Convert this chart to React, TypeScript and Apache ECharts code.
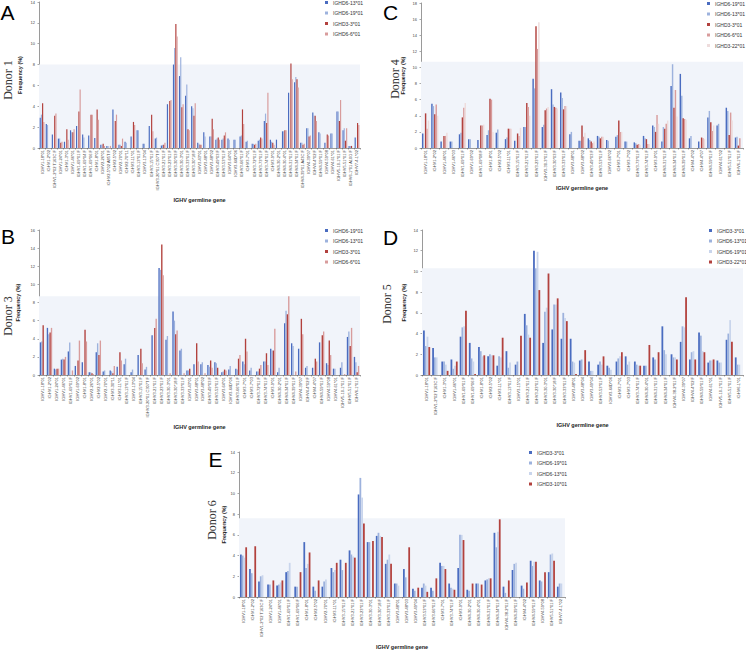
import React, { useEffect, useRef } from "react";
import * as echarts from "echarts";

// ---------- Panel A (Donor 1) ----------
const catsA = [
  "IGHV1-18*01", "IGHV1-2*02", "IGHV1-2*02 T163C F", "IGHV1-24*01", "IGHV1-3*01", "IGHV1-46*01",
  "IGHV1-69*01 F", "IGHV1-69*04 F", "IGHV1-69*06 F", "IGHV1-8*01", "IGHV2-26*01", "IGHV2-5*02 A85T F",
  "IGHV2-5*02", "IGHV2-70*01", "IGHV2-70*11", "IGHV3-11*01", "IGHV3-13*01 F", "IGHV3-13*04",
  "IGHV3-15*01 F", "IGHV3-20*01 C307T F", "IGHV3-21*01 F", "IGHV3-23*01 F", "IGHV3-30*03 F",
  "IGHV3-30-3*01", "IGHV3-33*01 F", "IGHV3-30*18 F", "IGHV3-43*01", "IGHV3-48*01", "IGHV3-48*02",
  "IGHV3-49*03 F", "IGHV3-53*01 F", "IGHV3-64*01", "IGHV3-64D*06", "IGHV3-66*01 F", "IGHV3-7*01",
  "IGHV3-72*01 F", "IGHV3-73*01 F", "IGHV3-74*01 F", "IGHV3-9*01", "IGHV4-30-2*01", "IGHV4-30-4*01",
  "IGHV4-31*01 F", "IGHV4-34*01 F", "IGHV4-39*01 A43C F", "IGHV4-39*07", "IGHV4-4*02 F", "IGHV4-59*01 F",
  "IGHV4-59*08", "IGHV4-61*01", "IGHV5-10-1*01 F", "IGHV5-51*01 F", "IGHV6-1*01 A10G F", "IGHV7-4-1*02",
];
const namesA = ["IGHD6-13*01", "IGHD6-19*01", "IGHD3-3*01", "IGHD6-6*01"];
const a1 = [2.9, 2.3, 1.3, 0.9, 0.6, 1.7, 2.1, 1.3, 1.2, 0.95, 0.3, 0.2, 3.7, 0.3, 0.6, 1.1, 1.7, 0.4, 2.1, 0.9, 0.25, 4.2, 8.0, 6.9, 5.0, 4.0, 0.5, 1.5, 1.1, 0.8, 0.8, 0.9, 0.8, 1.1, 0.6, 0.4, 0.7, 2.6, 0.8, 0.8, 1.6, 5.3, 6.3, 0.5, 1.9, 3.4, 1.5, 0.5, 1.4, 3.5, 1.7, 0.2, 1.0];
const a2 = [3.2, 2.2, 0, 0.9, 0, 1.5, 0, 1.0, 0, 0, 0.3, 0.2, 0, 0.3, 0.5, 0, 1.7, 0.4, 0, 1.0, 0.3, 0, 9.6, 8.7, 6.1, 3.8, 0.4, 1.1, 1.1, 0.9, 0.9, 0.8, 0.8, 1.2, 0.7, 0.4, 0.8, 3.3, 0.6, 0, 1.6, 0, 6.8, 0.5, 1.9, 3.1, 1.4, 0, 1.4, 3.5, 1.9, 0.2, 0];
const a3 = [4.3, 0, 3.1, 0.5, 1.8, 1.5, 3.5, 0, 3.2, 3.7, 0.4, 0, 2.6, 0.2, 0, 2.5, 0, 0, 3.2, 0, 0.3, 4.5, 11.9, 3.9, 1.8, 3.1, 0.3, 0, 2.8, 1.0, 1.2, 0, 0, 3.7, 0, 0.3, 1.0, 2.4, 0.5, 0, 1.7, 8.1, 6.6, 0.3, 1.1, 3.1, 0, 1.3, 0, 2.6, 0.7, 0.2, 2.4];
const a4 = [2.5, 0, 3.3, 0.6, 0.8, 1.8, 5.6, 0, 3.2, 2.7, 0.2, 0.2, 3.2, 0.9, 0, 2.2, 0, 0, 1.6, 0, 0.5, 4.6, 10.7, 4.2, 1.7, 4.3, 0.3, 0, 1.8, 0.8, 1.5, 0, 0, 2.3, 0, 0.4, 0.9, 5.3, 0.3, 0, 1.7, 6.6, 5.8, 0.4, 1.2, 2.6, 0, 1.2, 0, 4.6, 1.9, 0, 2.2];

// ---------- Panel B (Donor 3) ----------
const catsB = [
  "IGHV1-18*01", "IGHV1-2*02", "IGHV1-24*01", "IGHV1-46*01", "IGHV1-69*01 F", "IGHV1-69*02",
  "IGHV1-8*01", "IGHV2-26*01", "IGHV2-5*02", "IGHV2-70*01", "IGHV3-30*11", "IGHV3-11*01",
  "IGHV3-13*01 F", "IGHV3-13*04", "IGHV3-15*01 F", "IGHV3-20*01 C307T F", "IGHV3-21*01 F",
  "IGHV3-23*01 F", "IGHV3-30-3*01", "IGHV3-30*18 F", "IGHV3-33*01 F", "IGHV3-43*01", "IGHV3-48*01",
  "IGHV3-48*02", "IGHV3-49*03 F", "IGHV3-53*01 F", "IGHV3-64*01", "IGHV3-64D*06", "IGHV3-66*01 F",
  "IGHV3-7*01", "IGHV3-7*03", "IGHV3-72*01 F", "IGHV3-74*01 F", "IGHV3-9*01", "IGHV4-30-2*01",
  "IGHV4-34*01 F", "IGHV4-39*01 F", "IGHV4-39*07", "IGHV4-4*02 F", "IGHV4-4*07", "IGHV4-59*01 F",
  "IGHV4-59*08", "IGHV4-61*01", "IGHV5-10-1*01 F", "IGHV5-51*01 F", "IGHV6-1*01 F",
];
const namesB = ["IGHD6-19*01", "IGHD6-13*01", "IGHD3-3*01", "IGHD6-6*01"];
const b1 = [3.6, 5.2, 0.7, 1.7, 2.6, 1.0, 1.4, 0.3, 2.5, 0.4, 0.5, 0.9, 1.2, 0.3, 2.2, 0.6, 4.4, 11.8, 3.9, 7.0, 2.7, 0.5, 1.2, 1.2, 1.1, 1.4, 0.3, 0.6, 0.7, 1.5, 0.5, 0.4, 1.5, 2.9, 0.3, 5.7, 3.5, 2.9, 0.8, 0.8, 3.6, 1.3, 0.7, 0.8, 4.2, 2.0];
const b2 = [3.7, 4.5, 0.6, 1.8, 3.6, 0, 0, 0.3, 3.5, 0.5, 0.4, 0, 1.8, 0.6, 0, 0.9, 0, 11.6, 4.3, 6.0, 2.9, 0.5, 0, 1.4, 0.9, 1.3, 0.4, 1.0, 0.6, 1.2, 0.8, 0.4, 1.5, 2.7, 0.8, 7.1, 3.2, 0, 1.0, 0, 0, 1.1, 0.7, 1.4, 4.8, 1.4];
const b3 = [5.5, 4.7, 0.7, 1.7, 0, 1.6, 5.0, 0.2, 2.2, 0, 0.2, 2.5, 0, 0, 2.9, 0, 5.2, 14.4, 0, 4.5, 0, 0.7, 3.5, 0, 1.6, 0.8, 0.6, 0, 1.8, 4.0, 0, 0.7, 2.4, 2.7, 0, 6.7, 0, 6.2, 0, 1.8, 4.4, 3.8, 0, 0, 3.2, 0.3];
const b4 = [0, 5.2, 0.7, 2.0, 0.5, 3.8, 3.7, 0.1, 3.8, 0, 1.0, 1.6, 0, 0, 1.3, 0, 6.2, 11.0, 0.2, 4.9, 0.2, 0, 1.5, 0.2, 0.8, 0, 0.5, 0, 2.2, 2.6, 0, 1.1, 1.1, 5.1, 0, 8.7, 0.4, 4.5, 0, 1.5, 4.8, 2.2, 0, 0.1, 5.2, 1.0];

// ---------- Panel C (Donor 4) ----------
const catsC = [
  "IGHV1-18*01", "IGHV1-2*02", "IGHV1-46*01", "IGHV1-46*03", "IGHV1-69*01 F", "IGHV1-69*02",
  "IGHV1-69*08 F", "IGHV1-8*01", "IGHV2-5*02", "IGHV3-11*01", "IGHV3-15*01 F", "IGHV3-21*01 F",
  "IGHV3-23*01 F", "IGHV3-30-3*01 F", "IGHV3-30*03 F", "IGHV3-33*01 F", "IGHV3-48*01", "IGHV3-48*02",
  "IGHV3-49*03 F", "IGHV3-53*01 F", "IGHV3-66*02", "IGHV3-7*01", "IGHV3-7*02", "IGHV3-73*01 F",
  "IGHV3-74*01 F", "IGHV3-9*01", "IGHV4-31*01 F", "IGHV4-34*01 F", "IGHV4-39*01 F", "IGHV4-4*02",
  "IGHV4-4*07", "IGHV4-59*01 F", "IGHV4-61*02", "IGHV5-51*01 F", "IGHV6-1*01 F",
];
const namesC = ["IGHD6-19*01", "IGHD6-13*01", "IGHD3-3*01", "IGHD6-6*01", "IGHD3-22*01"];
const c1 = [1.8, 5.5, 0.8, 0.8, 1.7, 1.1, 1.0, 1.6, 1.9, 1.1, 0.9, 2.6, 8.6, 2.6, 7.3, 6.9, 1.7, 0.9, 1.2, 1.5, 1.0, 1.4, 0.8, 0.7, 1.5, 2.8, 0.8, 7.7, 9.2, 1.2, 0.8, 3.8, 2.8, 5.0, 1.3];
const c2 = [0, 5.2, 0, 0.8, 1.9, 1.1, 0, 2.2, 2.3, 1.3, 0, 2.6, 7.4, 2.9, 5.4, 6.2, 2.0, 0.9, 1.0, 1.4, 0.9, 1.6, 0.8, 0.6, 1.2, 2.6, 2.6, 10.4, 6.5, 1.5, 0, 4.6, 3.0, 4.6, 1.4];
const c3 = [4.3, 4.2, 1.5, 0, 3.8, 0, 2.8, 6.1, 0, 2.4, 1.8, 5.6, 15.1, 4.7, 5.1, 4.8, 0, 2.8, 0.8, 1.2, 0, 3.4, 0, 0.4, 1.1, 2.0, 2.4, 5.0, 3.7, 0, 1.3, 3.2, 0, 1.6, 0.3];
const c4 = [2.4, 5.4, 1.5, 0, 5.0, 0, 2.8, 6.0, 0, 2.4, 1.5, 5.1, 12.3, 4.9, 5.0, 5.2, 0, 1.4, 0.6, 1.4, 0, 2.0, 0, 0.5, 0.5, 4.1, 3.0, 7.2, 3.6, 0, 1.2, 2.1, 0, 4.4, 1.2];
const c5 = [3.4, 4.0, 1.9, 0, 5.6, 0, 2.9, 2.0, 0, 2.4, 2.5, 4.0, 15.6, 5.1, 4.9, 5.2, 0, 1.9, 0.8, 1.4, 0, 2.0, 0, 0.4, 0.5, 3.0, 3.4, 3.9, 3.5, 0, 1.1, 2.8, 0, 3.4, 0];

// ---------- Panel D (Donor 5) ----------
const catsD = [
  "IGHV1-18*01", "IGHV1-2*02 T163C F", "IGHV1-3*01", "IGHV1-46*01", "IGHV1-69*01 F", "IGHV1-69*06 F",
  "IGHV1-8*01", "IGHV2-5*02", "IGHV3-11*01", "IGHV3-13*01 F", "IGHV3-15*01", "IGHV3-21*01 F",
  "IGHV3-23*01 F", "IGHV3-30-3*01", "IGHV3-30*18 F", "IGHV3-33*01 F", "IGHV3-48*01", "IGHV3-48*04",
  "IGHV3-49*04", "IGHV3-53*01 F", "IGHV3-64D*06", "IGHV3-7*01", "IGHV3-7*03", "IGHV3-74*01 F",
  "IGHV4-30-4*01", "IGHV4-31*01 F", "IGHV4-34*01 F", "IGHV4-38-2*01 F", "IGHV4-39*07", "IGHV4-4*02 F",
  "IGHV4-59*01 F", "IGHV4-61*01", "IGHV5-10-1*01 F", "IGHV5-51*01 F", "IGHV6-1*01",
];
const namesD = ["IGHD3-3*01", "IGHD6-13*01", "IGHD6-19*01", "IGHD3-22*01"];
const d1 = [4.3, 2.6, 1.3, 1.5, 3.7, 3.1, 2.7, 1.8, 0.9, 2.3, 1.0, 5.9, 12.0, 3.1, 4.4, 3.5, 3.5, 1.4, 1.3, 1.0, 0.9, 1.3, 1.8, 1.3, 0.9, 1.7, 4.7, 2.0, 3.2, 1.5, 4.1, 1.2, 1.4, 3.4, 1.7];
const d2 = [2.8, 1.7, 1.3, 0.6, 4.6, 1.6, 2.3, 2.0, 1.8, 0.7, 1.3, 4.8, 10.3, 6.1, 6.8, 6.0, 1.3, 1.5, 0.4, 1.3, 0.7, 1.6, 1.0, 1.0, 0.9, 1.5, 2.4, 1.7, 4.7, 2.2, 3.8, 1.4, 1.2, 4.0, 1.0];
const d3 = [3.7, 1.7, 1.0, 0.9, 4.7, 1.3, 1.8, 1.9, 1.7, 1.2, 0, 3.9, 11.9, 6.5, 6.8, 5.5, 1.2, 0, 0.4, 1.0, 0.5, 1.8, 1.3, 0.9, 0, 0, 2.0, 1.7, 4.6, 2.3, 2.3, 1.4, 1.2, 5.3, 1.0];
const d4 = [2.7, 0, 0.4, 1.3, 6.2, 0.1, 1.9, 1.9, 3.6, 0, 3.8, 3.6, 8.2, 9.8, 7.4, 5.2, 0.1, 2.4, 0, 1.8, 0, 2.2, 0, 0.9, 2.9, 2.2, 0, 1.5, 7.5, 1.5, 2.2, 1.5, 0, 3.2, 0];

// ---------- Panel E (Donor 6) ----------
const catsE = [
  "IGHV1-18*01", "IGHV1-2*02", "IGHV1-2*02 T163C F", "IGHV1-24*01", "IGHV1-46*01", "IGHV1-69*01 F",
  "IGHV1-69*06 F", "IGHV1-8*01", "IGHV2-5*02", "IGHV2-70*01", "IGHV3-11*01", "IGHV3-15*01 F",
  "IGHV3-21*01 F", "IGHV3-23*01 F", "IGHV3-30-3*01", "IGHV3-30*18 F", "IGHV3-33*01 F", "IGHV3-48*01",
  "IGHV3-48*03", "IGHV3-49*04", "IGHV3-53*01 F", "IGHV3-66*01 F", "IGHV3-7*01", "IGHV3-74*01 F",
  "IGHV3-9*01", "IGHV4-30-2*01", "IGHV4-30-4*01", "IGHV4-31*01 F", "IGHV4-34*01 F", "IGHV4-38-2*01 F",
  "IGHV4-39*01 F", "IGHV4-4*02", "IGHV4-59*01 F", "IGHV4-59*08", "IGHV5-51*01 F", "IGHV7-4-1*02",
];
const namesE = ["IGHD3-3*01", "IGHD6-19*01", "IGHD6-13*01", "IGHD3-10*01"];
const e1 = [4.1, 2.7, 1.5, 1.2, 1.1, 2.4, 1.0, 5.3, 1.0, 1.0, 2.8, 3.6, 4.5, 9.9, 5.3, 5.9, 3.2, 1.3, 2.7, 0.8, 0.9, 0.9, 3.3, 1.3, 2.8, 0.7, 1.3, 1.6, 6.2, 1.0, 2.6, 1.1, 3.5, 1.6, 2.4, 1.0];
const e2 = [4.0, 2.3, 2.0, 1.2, 1.2, 2.5, 1.0, 2.8, 0.6, 1.5, 2.4, 2.6, 4.1, 11.5, 5.3, 6.2, 3.6, 1.3, 1.9, 0.6, 1.3, 0.6, 3.0, 0.9, 6.0, 0.6, 1.3, 1.7, 4.8, 0.4, 3.2, 0.8, 3.0, 1.5, 4.1, 1.3];
const e3 = [3.8, 0, 2.1, 0, 1.4, 3.3, 0, 3.2, 0, 1.7, 2.6, 0, 3.9, 9.6, 0, 5.9, 4.1, 1.1, 0, 0, 1.1, 0, 3.0, 0.8, 6.0, 0, 0, 1.8, 6.3, 0, 3.3, 0, 3.4, 0, 4.2, 1.3];
const e4 = [4.8, 4.9, 0, 1.6, 1.6, 0, 2.4, 4.3, 1.6, 0, 3.3, 3.3, 3.8, 7.1, 5.4, 5.8, 3.2, 0, 4.8, 0.9, 0.5, 1.8, 2.7, 0.7, 5.5, 1.3, 1.2, 1.8, 7.5, 1.6, 0, 1.4, 3.4, 2.4, 3.5, 0];

// shaded band top (frequency value) per panel
const shadeTops = [8.0, 8.7, 10.7, 10.3, 7.6];
const yMaxes = [14, 16, 18, 14, 14];

const BLUE = "#4a6cc0";
const LBLUE = "#9db2dd";
const VLBLUE = "#c9d5ec";
const RED = "#b2413d";
const PINK = "#d89c9c";
const VLPINK = "#eedcdc";
const SHADE = "#f1f4fa";
const SANS = "'Liberation Sans', Arial, sans-serif";
const SERIF = "'Liberation Serif', 'Times New Roman', serif";

const panels = [
  {
    cats: catsA, names: namesA, values: [a1, a2, a3, a4], colors: [BLUE, LBLUE, RED, PINK],
    grid: { left: 39, top: 2, width: 321, height: 146 }, legend: { left: 325, top: 0 },
    xGap: 49, yGap: 16, letter: { t: "A", x: 7.5, y: 12.5 }, donor: { t: "Donor 1", x: 8, y: 80 },
  },
  {
    cats: catsB, names: namesB, values: [b1, b2, b3, b4], colors: [BLUE, LBLUE, RED, PINK],
    grid: { left: 39, top: 230, width: 321, height: 145 }, legend: { left: 325, top: 228 },
    xGap: 49, yGap: 18, letter: { t: "B", x: 8, y: 236.5 }, donor: { t: "Donor 3", x: 7.5, y: 316 },
  },
  {
    cats: catsC, names: namesC, values: [c1, c2, c3, c4, c5], colors: [BLUE, LBLUE, RED, PINK, VLPINK],
    grid: { left: 421, top: 3, width: 322, height: 145 }, legend: { left: 707, top: 1 },
    xGap: 37, yGap: 15, letter: { t: "C", x: 390.5, y: 12 }, donor: { t: "Donor 4", x: 395, y: 79 },
  },
  {
    cats: catsD, names: namesD, values: [d1, d2, d3, d4], colors: [BLUE, LBLUE, VLBLUE, RED],
    grid: { left: 422, top: 230, width: 321, height: 145 }, legend: { left: 709, top: 228 },
    xGap: 47, yGap: 15, letter: { t: "D", x: 390.5, y: 237.5 }, donor: { t: "Donor 5", x: 387, y: 304 },
  },
  {
    cats: catsE, names: namesE, values: [e1, e2, e3, e4], colors: [BLUE, LBLUE, VLBLUE, RED],
    grid: { left: 239, top: 452, width: 326, height: 146 }, legend: { left: 529, top: 450 },
    xGap: 47, yGap: 8, letter: { t: "E", x: 215.5, y: 459.5 }, donor: { t: "Donor 6", x: 212, y: 520 },
  },
];

function buildOption() {
  const grid: any[] = [];
  const xAxis: any[] = [];
  const yAxis: any[] = [];
  const series: any[] = [];
  const legend: any[] = [];
  const graphic: any[] = [];

  panels.forEach((p, k) => {
    grid.push({ ...p.grid, containLabel: false });
    xAxis.push({
      type: "category",
      gridIndex: k,
      data: p.cats,
      name: "IGHV germline gene",
      nameLocation: "middle",
      nameGap: p.xGap,
      nameTextStyle: { fontSize: 5.5, fontWeight: "bold", color: "#222", fontFamily: SANS },
      axisLine: { lineStyle: { color: "#555", width: 0.6 } },
      axisTick: { show: true, length: 1.5, lineStyle: { color: "#555", width: 0.5 } },
      axisLabel: { interval: 0, rotate: 90, fontSize: 4, margin: 2, color: "#444", fontFamily: SANS },
    });
    yAxis.push({
      type: "value",
      gridIndex: k,
      min: 0,
      max: yMaxes[k],
      interval: 2,
      name: "Frequency (%)",
      nameLocation: "middle",
      nameGap: p.yGap,
      nameTextStyle: { fontSize: 5.5, fontWeight: "bold", color: "#222", fontFamily: SANS },
      axisLine: { show: true, lineStyle: { color: "#555", width: 0.6 } },
      axisTick: { show: true, length: 1.5, lineStyle: { color: "#555", width: 0.5 } },
      axisLabel: { fontSize: 4, margin: 4, color: "#444", fontFamily: SANS },
      splitLine: { show: false },
    });
    p.names.forEach((n, j) => {
      const s: any = {
        type: "bar",
        name: n,
        xAxisIndex: k,
        yAxisIndex: k,
        data: p.values[j],
        itemStyle: { color: p.colors[j] },
        barGap: "0%",
        barCategoryGap: "22%",
      };
      if (j === 0) {
        s.markArea = {
          silent: true,
          itemStyle: { color: SHADE },
          data: [[{ yAxis: 0 }, { yAxis: shadeTops[k] }]],
        };
      }
      series.push(s);
    });
    legend.push({
      orient: "vertical",
      left: p.legend.left,
      top: p.legend.top,
      padding: 0,
      itemWidth: 3,
      itemHeight: 3,
      itemGap: 5.5,
      icon: "rect",
      selectedMode: false,
      textStyle: { fontSize: 5, color: "#333", fontFamily: SANS, lineHeight: 5 },
      data: p.names.map((n, j) => ({ name: n, itemStyle: { color: p.colors[j] } })),
    });
    graphic.push({
      type: "text",
      x: p.letter.x,
      y: p.letter.y,
      style: { text: p.letter.t, fontSize: 21, fontFamily: SANS, fill: "#000", align: "center", verticalAlign: "middle" },
    });
    graphic.push({
      type: "text",
      x: p.donor.x,
      y: p.donor.y,
      rotation: Math.PI / 2,
      style: { text: p.donor.t, fontSize: 12, fontFamily: SERIF, fill: "#333", align: "center", verticalAlign: "middle" },
    });
  });

  return {
    animation: false,
    backgroundColor: "#ffffff",
    textStyle: { fontFamily: SANS },
    grid,
    xAxis,
    yAxis,
    series,
    legend,
    graphic,
  };
}

export default function App() {
  const ref = useRef<HTMLDivElement>(null);
  useEffect(() => {
    if (!ref.current) return;
    const chart = echarts.init(ref.current, null, { renderer: "svg" });
    chart.setOption(buildOption() as any);
    return () => chart.dispose();
  }, []);
  return (
    <div
      ref={ref}
      style={{ position: "fixed", left: 0, top: 0, width: 746, height: 651, background: "#fff" }}
    />
  );
}
